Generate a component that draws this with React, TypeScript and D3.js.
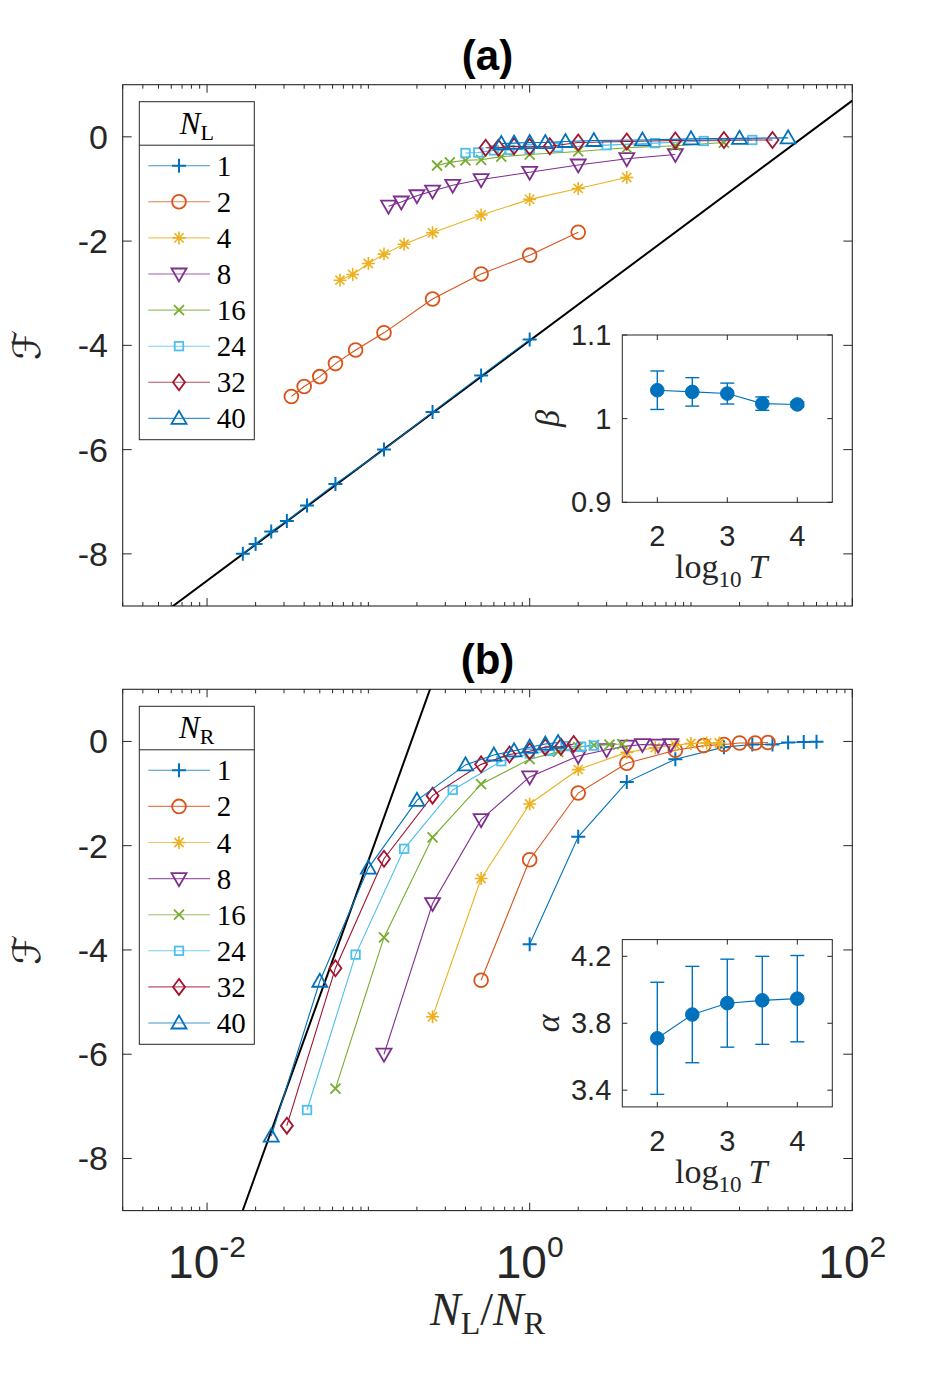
import React from 'react';
import * as d3 from 'd3';

// ---------- data ----------
const N_VALUES = [1, 2, 4, 8, 16, 24, 32, 40, 50, 60];
const SERIES_N = [1, 2, 4, 8, 16, 24, 32, 40];

// F(N_L, N_R): one row per N_L, columns follow N_VALUES (N_R)
const F_NL1 = [-3.89, -4.58, -5.28, -6.0, -6.66, -7.07, -7.37, -7.57, -7.81, -8.0];
const F_NL2 = [-1.83, -2.27, -2.63, -3.11, -3.76, -4.09, -4.35, -4.6, -4.79, -4.98];
const F_NL4 = [-0.78, -0.99, -1.2, -1.5, -1.84, -2.06, -2.25, -2.43, -2.64, -2.75];
const F_NL8 = [-0.34, -0.42, -0.54, -0.68, -0.82, -0.93, -1.04, -1.13, -1.25, -1.33];
const F_NL16 = [-0.11, -0.17, -0.21, -0.28, -0.34, -0.38, -0.44, -0.45, -0.49, -0.55];
const F_NL24 = [-0.06, -0.08, -0.12, -0.16, -0.2, -0.23, -0.25, -0.26, -0.3, -0.31];
const F_NL32 = [-0.06, -0.06, -0.07, -0.09, -0.11, -0.18, -0.19, -0.18, -0.21, -0.21];
const F_NL40 = [-0.02, -0.03, -0.04, -0.06, -0.07, -0.09, -0.11, -0.11, -0.12, -0.13];
const F_NL50 = [-0.01, -0.03, -0.03, -0.07, -0.06, -0.1, -0.1, -0.05];
const F_NL60 = [-0.005, -0.02, -0.03, -0.06, -0.05, -0.08, -0.05, -0.02];
const F_ROWS = [F_NL1, F_NL2, F_NL4, F_NL8, F_NL16, F_NL24, F_NL32, F_NL40, F_NL50, F_NL60];

// fitted lines  F = slope * ln(N_L/N_R) + intercept
const FIT_A = { slope: 1.0, intercept: -3.91 };
const FIT_B = { slope: 3.74, intercept: 6.32 };

// insets
const LOG_T = [2, 2.5, 3, 3.5, 4];
const BETA = [1.034, 1.032, 1.03, 1.018, 1.017];
const BETA_ERR = [0.023, 0.017, 0.0125, 0.008, 0.003];
const ALPHA = [3.71, 3.852, 3.92, 3.937, 3.947];
const ALPHA_ERR = [0.335, 0.288, 0.263, 0.263, 0.258];

const X_MAJOR = [0.01, 1, 100];
const Y_TICKS = [-8, -6, -4, -2, 0];
const INSET_X_TICKS = [2, 3, 4];
const BETA_TICKS = [0.9, 1, 1.1];
const ALPHA_TICKS = [3.4, 3.8, 4.2];

// ---------- style ----------
const COLORS = ['#0072BD', '#D95319', '#EDB120', '#7E2F8E', '#77AC30', '#4DBEEE', '#A2142F', '#0072BD'];
const MARKERS = ['plus', 'circle', 'star', 'triDown', 'cross', 'square', 'diamond', 'triUp'];
const SANS = "'Liberation Sans', Arial, Helvetica, sans-serif";
const SERIF = "'Liberation Serif', 'Times New Roman', serif";
const AXC = '#262626';

const X_DOMAIN = [0.003, 100];
const Y_DOMAIN = [-9, 1];
const FL = 122.7;
const FW = 729.6;
const FH = 521.3;
const PANEL_TOPS = [84.7, 689.3];

function Marker({ type, x, y, color }) {
  const sw = 1.8;
  const common = { stroke: color, strokeWidth: sw, fill: 'none' };
  switch (type) {
    case 'plus':
      return <path d={`M${x - 7},${y}H${x + 7}M${x},${y - 7}V${y + 7}`} {...common} strokeWidth={2} />;
    case 'circle':
      return <circle cx={x} cy={y} r={6.9} {...common} />;
    case 'star': {
      const a = 6.5, b = a * 0.7071;
      return (
        <path
          d={`M${x - a},${y}H${x + a}M${x},${y - a}V${y + a}M${x - b},${y - b}L${x + b},${y + b}M${x - b},${y + b}L${x + b},${y - b}`}
          {...common}
          strokeWidth={1.6}
        />
      );
    }
    case 'triDown':
      return <path d={`M${x - 7.5},${y - 5.5}L${x + 7.5},${y - 5.5}L${x},${y + 7.5}Z`} {...common} />;
    case 'triUp':
      return <path d={`M${x - 7.5},${y + 5.5}L${x + 7.5},${y + 5.5}L${x},${y - 7.5}Z`} {...common} />;
    case 'cross':
      return <path d={`M${x - 5},${y - 5}L${x + 5},${y + 5}M${x - 5},${y + 5}L${x + 5},${y - 5}`} {...common} />;
    case 'square':
      return <rect x={x - 4.25} y={y - 4.25} width={8.5} height={8.5} {...common} />;
    case 'diamond':
      return <path d={`M${x},${y - 8}L${x + 6},${y}L${x},${y + 8}L${x - 6},${y}Z`} {...common} />;
    default:
      return null;
  }
}

function buildSeries(mode) {
  // mode 'a': series per N_L over all N_R ; mode 'b': series per N_R over all N_L
  return SERIES_N.map((n, si) => {
    const pts = [];
    if (mode === 'a') {
      const row = F_ROWS[N_VALUES.indexOf(n)];
      N_VALUES.forEach((nr, j) => {
        if (row[j] !== undefined) pts.push({ x: n / nr, y: row[j] });
      });
    } else {
      N_VALUES.forEach((nl, i) => {
        const v = F_ROWS[i][si];
        if (v !== undefined) pts.push({ x: nl / n, y: v });
      });
    }
    return { n, pts, color: COLORS[si], marker: MARKERS[si] };
  });
}

function Inset({ top, values, errs, yDomain, yTicks, label }) {
  const left = 622.3, w = 210, h = 167.3;
  const xs = d3.scaleLinear().domain([1.5, 4.5]).range([left, left + w]);
  const ys = d3.scaleLinear().domain(yDomain).range([top + h, top]);
  const line = d3.line().x((d) => xs(d[0])).y((d) => ys(d[1]));
  const data = LOG_T.map((t, i) => [t, values[i]]);
  const color = '#0072BD';
  return (
    <g>
      <rect x={left} y={top} width={w} height={h} fill="#fff" stroke={AXC} strokeWidth={1} />
      {INSET_X_TICKS.map((t) => (
        <g key={'xt' + t}>
          <line x1={xs(t)} x2={xs(t)} y1={top + h} y2={top + h - 5} stroke={AXC} />
          <line x1={xs(t)} x2={xs(t)} y1={top} y2={top + 5} stroke={AXC} />
          <text x={xs(t)} y={top + h + 44} textAnchor="middle" fontFamily={SANS} fontSize={29} fill={AXC}>
            {t}
          </text>
        </g>
      ))}
      {yTicks.map((t) => (
        <g key={'yt' + t}>
          <line x1={left} x2={left + 5} y1={ys(t)} y2={ys(t)} stroke={AXC} />
          <line x1={left + w} x2={left + w - 5} y1={ys(t)} y2={ys(t)} stroke={AXC} />
          <text x={left - 11} y={ys(t) + 10} textAnchor="end" fontFamily={SANS} fontSize={29} fill={AXC}>
            {String(t)}
          </text>
        </g>
      ))}
      <path d={line(data)} fill="none" stroke={color} strokeWidth={1.1} />
      {data.map((d, i) => (
        <g key={'e' + i}>
          <line x1={xs(d[0])} x2={xs(d[0])} y1={ys(d[1] - errs[i])} y2={ys(d[1] + errs[i])} stroke={color} strokeWidth={1.4} />
          <line x1={xs(d[0]) - 7} x2={xs(d[0]) + 7} y1={ys(d[1] - errs[i])} y2={ys(d[1] - errs[i])} stroke={color} strokeWidth={1.4} />
          <line x1={xs(d[0]) - 7} x2={xs(d[0]) + 7} y1={ys(d[1] + errs[i])} y2={ys(d[1] + errs[i])} stroke={color} strokeWidth={1.4} />
          <circle cx={xs(d[0])} cy={ys(d[1])} r={6.8} fill={color} stroke={color} />
        </g>
      ))}
      <text
        transform={`translate(${left - 73},${top + h / 2}) rotate(-90)`}
        textAnchor="middle"
        fontFamily={SERIF}
        fontStyle="italic"
        fontSize={34}
        fill={AXC}
        dy={10}
      >
        {label}
      </text>
      <text x={left + w / 2 - 6} y={top + h + 76} textAnchor="middle" fontFamily={SERIF} fontSize={34} fill={AXC}>
        <tspan>log</tspan>
        <tspan fontSize={23} dy={9}>10</tspan>
        <tspan dy={-9} dx={7} fontStyle="italic">T</tspan>
      </text>
    </g>
  );
}

function Panel({ idx, title, mode, legendSub, fit, inset, showXTickLabels }) {
  const top = PANEL_TOPS[idx];
  const x = d3.scaleLog().domain(X_DOMAIN).range([FL, FL + FW]);
  const y = d3.scaleLinear().domain(Y_DOMAIN).range([top + FH, top]);
  const series = buildSeries(mode);
  const clipId = 'clip' + idx;
  const line = d3.line().x((d) => x(d.x)).y((d) => y(d.y));
  const allTicks = x.ticks();
  const isMajor = (t) => X_MAJOR.some((m) => Math.abs(Math.log10(t) - Math.log10(m)) < 1e-6);
  const fitPts = X_DOMAIN.map((v) => ({ x: v, y: fit.slope * Math.log(v) + fit.intercept }));

  const legL = FL + 16.6, legT = top + 17, legW = 115, legH = 338, headH = 43.5;
  const rowY = (i) => legT + 64 + i * 36.1;

  return (
    <g>
      <defs>
        <clipPath id={clipId}>
          <rect x={FL} y={top} width={FW} height={FH} />
        </clipPath>
      </defs>
      <text x={FL + FW / 2} y={top - 15} textAnchor="middle" fontFamily={SANS} fontWeight="bold" fontSize={42} fill="#000">
        {title}
      </text>
      <rect x={FL} y={top} width={FW} height={FH} fill="#fff" stroke={AXC} strokeWidth={1.1} />
      {/* x ticks */}
      {allTicks.map((t, i) => {
        const L = isMajor(t) ? 8 : 4;
        return (
          <g key={'xt' + i}>
            <line x1={x(t)} x2={x(t)} y1={top + FH} y2={top + FH - L} stroke={AXC} />
            <line x1={x(t)} x2={x(t)} y1={top} y2={top + L} stroke={AXC} />
          </g>
        );
      })}
      {showXTickLabels &&
        X_MAJOR.map((t) => (
          <text key={'xl' + t} x={x(t)} y={top + FH + 67} textAnchor="middle" fontFamily={SANS} fontSize={46} fill={AXC}>
            <tspan>10</tspan>
            <tspan fontSize={30} dy={-21}>{String(Math.round(Math.log10(t)))}</tspan>
          </text>
        ))}
      {/* y ticks */}
      {Y_TICKS.map((t) => (
        <g key={'yt' + t}>
          <line x1={FL} x2={FL + 9} y1={y(t)} y2={y(t)} stroke={AXC} />
          <line x1={FL + FW} x2={FL + FW - 9} y1={y(t)} y2={y(t)} stroke={AXC} />
          <text x={108} y={y(t) + 12} textAnchor="end" fontFamily={SANS} fontSize={34} fill={AXC}>
            {String(t)}
          </text>
        </g>
      ))}
      <text
        transform={`translate(28,${top + FH / 2}) rotate(-90)`}
        textAnchor="middle"
        dy={12}
        fontFamily="'DejaVu Serif', 'DejaVu Sans', serif"
        fontSize={38}
        fill={AXC}
      >
        ℱ
      </text>
      {/* fit line */}
      <g clipPath={`url(#${clipId})`}>
        <path d={line(fitPts)} fill="none" stroke="#000" strokeWidth={2} />
      </g>
      {/* series */}
      {series.map((s, si) => (
        <g key={'s' + si}>
          <path d={line(s.pts)} fill="none" stroke={s.color} strokeWidth={1.1} />
          {s.pts.map((p, pi) => (
            <Marker key={pi} type={s.marker} x={x(p.x)} y={y(p.y)} color={s.color} />
          ))}
        </g>
      ))}
      {/* legend */}
      <rect x={legL} y={legT} width={legW} height={legH} fill="#fff" stroke={AXC} strokeWidth={1} />
      <line x1={legL} x2={legL + legW} y1={legT + headH} y2={legT + headH} stroke={AXC} strokeWidth={1} />
      <text x={legL + legW / 2} y={legT + 32} textAnchor="middle" fontFamily={SERIF} fontSize={31} fill="#000">
        <tspan fontStyle="italic">N</tspan>
        <tspan fontSize={22} dy={6}>{legendSub}</tspan>
      </text>
      {series.map((s, si) => (
        <g key={'lg' + si}>
          <line x1={legL + 9} x2={legL + 70.7} y1={rowY(si)} y2={rowY(si)} stroke={s.color} strokeWidth={1.1} opacity={0.75} />
          <Marker type={s.marker} x={legL + 39.7} y={rowY(si)} color={s.color} />
          <text x={legL + 77.4} y={rowY(si) + 10} fontFamily={SERIF} fontSize={29} fill="#000">
            {String(s.n)}
          </text>
        </g>
      ))}
      <Inset top={top + 250.3} {...inset} />
    </g>
  );
}

export default function App() {
  const W = 938, H = 1375;
  return (
    <svg width={W} height={H} style={{ position: 'absolute', left: 0, top: 0, background: '#fff' }}>
      <rect width={W} height={H} fill="#fff" />
      <Panel
        idx={0}
        title="(a)"
        mode="a"
        legendSub="L"
        fit={FIT_A}
        showXTickLabels={false}
        inset={{ values: BETA, errs: BETA_ERR, yDomain: [0.9, 1.1], yTicks: BETA_TICKS, label: 'β' }}
      />
      <Panel
        idx={1}
        title="(b)"
        mode="b"
        legendSub="R"
        fit={FIT_B}
        showXTickLabels={true}
        inset={{ values: ALPHA, errs: ALPHA_ERR, yDomain: [3.3, 4.3], yTicks: ALPHA_TICKS, label: 'α' }}
      />
      <text x={FL + FW / 2} y={1325} textAnchor="middle" fontFamily={SERIF} fontSize={46} fill={AXC}>
        <tspan fontStyle="italic">N</tspan>
        <tspan fontSize={32} dy={9}>L</tspan>
        <tspan dy={-9}>/</tspan>
        <tspan fontStyle="italic">N</tspan>
        <tspan fontSize={32} dy={9}>R</tspan>
      </text>
    </svg>
  );
}
